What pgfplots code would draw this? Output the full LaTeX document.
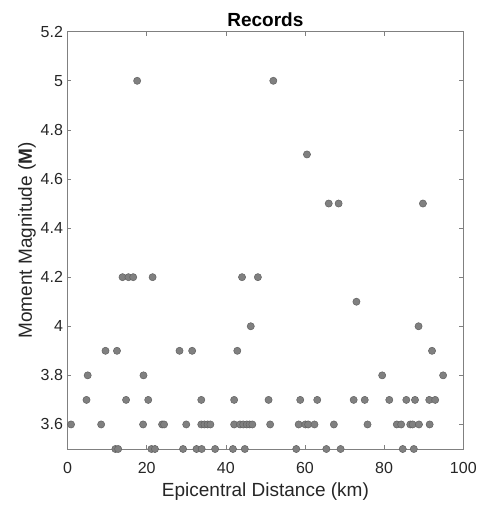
\documentclass[border=0pt]{standalone}
\usepackage{fontspec}
\setmainfont{Liberation Sans}
\usepackage{pgfplots}
\pgfplotsset{compat=1.18}

\begin{document}
\begin{tikzpicture}
    \begin{axis}[
        scale only axis, width=395.8pt, height=417.3pt,
        xmin=0, xmax=100, ymin=3.5, ymax=5.2,
        xtick={0,20,...,100}, ytick={3.6,3.8,4,4.2,4.4,4.6,4.8,5,5.2},
        yticklabels={3.6,3.8,4,4.2,4.4,4.6,4.8,5,5.2},
        tick align=inside, major tick length=4pt,
        axis line style={black!50, line width=.6pt},
        tick style={black!50, line width=.6pt},
        clip=false,
        /pgf/number format/assume math mode=true,
        tick label style={font=\fontsize{16}{18}\selectfont, text=black!85},
        xticklabel style={yshift=-10pt},
        yticklabel style={xshift=-1pt},
        label style={font=\fontsize{19}{22}\selectfont, text=black!85},
        title style={font=\fontsize{19}{22}\selectfont\bfseries, yshift=-5pt},
        title={Records},
        xlabel={Epicentral Distance (km)},
        ylabel={Moment Magnitude (\textbf{M})},
        xlabel style={yshift=-2pt},
        ylabel style={yshift=-2pt},
    ]
        \addplot[only marks, mark=*, mark size=3.6pt,
            mark options={fill=black!50, draw=black!62, line width=.5pt}]
            table {
x    m
17.6 5.0
52.0 5.0
60.5 4.7
66.0 4.5
68.5 4.5
89.8 4.5
13.9 4.2
15.4 4.2
16.6 4.2
21.5 4.2
44.1 4.2
48.1 4.2
73.0 4.1
46.3 4.0
88.7 4.0
9.6  3.9
12.5 3.9
28.3 3.9
31.5 3.9
42.9 3.9
92.1 3.9
5.1  3.8
19.2 3.8
79.5 3.8
94.9 3.8
4.8  3.7
14.8 3.7
20.4 3.7
33.8 3.7
42.1 3.7
50.8 3.7
58.8 3.7
63.1 3.7
72.3 3.7
75.1 3.7
81.3 3.7
85.6 3.7
87.8 3.7
91.4 3.7
92.9 3.7
0.9  3.6
8.5  3.6
19.1 3.6
23.9 3.6
24.4 3.6
30.0 3.6
33.8 3.6
34.6 3.6
35.4 3.6
36.1 3.6
42.1 3.6
43.6 3.6
44.4 3.6
45.3 3.6
46.0 3.6
46.7 3.6
51.2 3.6
58.4 3.6
60.1 3.6
60.8 3.6
62.4 3.6
67.3 3.6
75.8 3.6
83.2 3.6
84.3 3.6
86.6 3.6
87.2 3.6
88.8 3.6
91.5 3.6
12.1 3.5
12.8 3.5
21.2 3.5
22.1 3.5
29.2 3.5
32.6 3.5
33.9 3.5
37.3 3.5
41.8 3.5
44.8 3.5
57.8 3.5
65.4 3.5
69.0 3.5
84.7 3.5
87.5 3.5
            };
    \end{axis}
    % fix the page to the reference's 480 x 505 frame
    \path (current axis.south west) ++(-67.5pt,-56pt) rectangle ++(480pt,505pt);
\end{tikzpicture}
\end{document}
